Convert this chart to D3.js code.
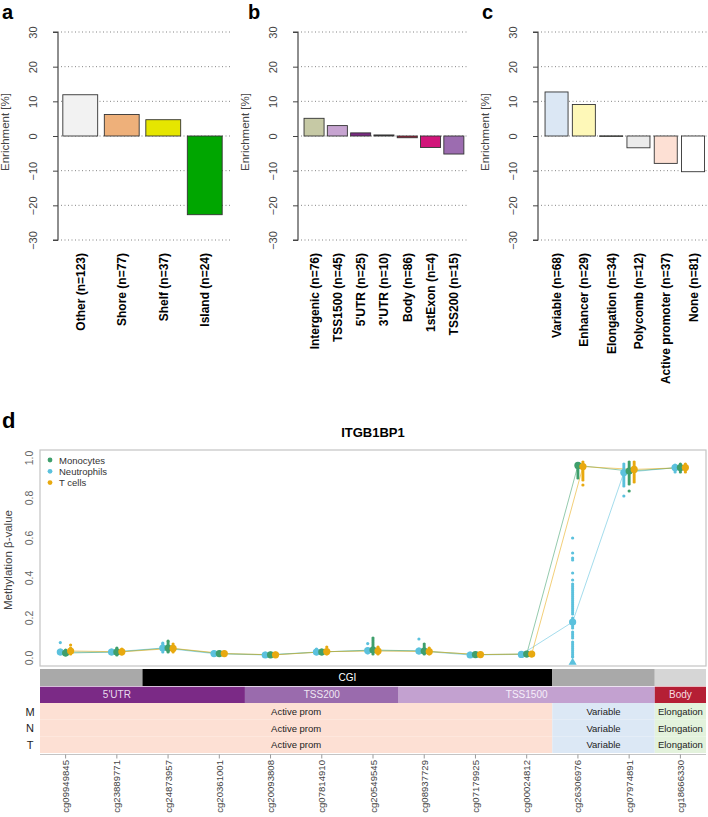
<!DOCTYPE html>
<html><head><meta charset="utf-8">
<script src="https://cdn.jsdelivr.net/npm/d3@7"></script>
<style>body{margin:0;background:#fff}svg{display:block}text{font-family:"Liberation Sans",Arial,sans-serif}</style>
</head><body>
<svg id="chart" width="708" height="817"></svg>
<script>
// ---------- Panel a/b/c data ----------
const aCats = ["Other (n=123)","Shore (n=77)","Shelf (n=37)","Island (n=24)"];
const aVals = [11.9, 6.2, 4.7, -22.7];
const aColors = ["#f2f2f2","#eeb07a","#e6e600","#00a600"];

const bCats = ["Intergenic (n=76)","TSS1500 (n=45)","5'UTR (n=25)","3'UTR (n=10)","Body (n=86)","1stExon (n=4)","TSS200 (n=15)"];
const bVals = [5.1, 3.0, 0.9, 0.3, -0.5, -3.3, -5.2];
const bColors = ["#c6c9a5","#c7a4d1","#7b2a83","#333333","#a51b35","#d1157a","#9c6cb0"];

const cCats = ["Variable (n=68)","Enhancer (n=29)","Elongation (n=34)","Polycomb (n=12)","Active promoter (n=37)","None (n=81)"];
const cVals = [12.7, 9.1, 0.05, -3.4, -7.9, -10.3];
const cColors = ["#dbe7f4","#fef8b8","#e2f1da","#ebebeb","#fde0d4","#ffffff"];

const enrichTicks = [-30,-20,-10,0,10,20,30];

// ---------- Panel d data ----------
const geneName = "ITGB1BP1";
const cpgs = ["cg09949845","cg23889771","cg24873957","cg20361001","cg20093808","cg07814910","cg20549545","cg08937729","cg07179925","cg00024812","cg26306976","cg07974891","cg18666330"];
const groups = ["Neutrophils","Monocytes","T cells"];
const legendOrder = ["Monocytes","Neutrophils","T cells"];
const groupColors = {"Monocytes":"#3f9f6c","Neutrophils":"#5bc1dd","T cells":"#e8a90f"};

const neutMean = [0.030,0.030,0.050,0.022,0.015,0.030,0.037,0.035,0.015,0.018,0.180,0.927,0.952];
const monoMean = [0.025,0.030,0.050,0.022,0.016,0.030,0.040,0.035,0.017,0.020,0.963,0.935,0.952];
const tcelMean = [0.035,0.031,0.048,0.022,0.016,0.032,0.035,0.032,0.017,0.020,0.957,0.943,0.952];

const neutPts = [
  [0.02,0.025,0.03,0.035,0.04,0.077],
  [0.02,0.025,0.03,0.035,0.04],
  [0.03,0.04,0.05,0.06,0.07,0.075],
  [0.015,0.02,0.025,0.03],
  [0.01,0.015,0.02,0.025],
  [0.02,0.025,0.03,0.035,0.045],
  [0.025,0.03,0.035,0.04,0.045,0.072],
  [0.025,0.03,0.035,0.04,0.045,0.095],
  [0.01,0.015,0.02,0.025],
  [0.01,0.015,0.02,0.025],
  [0.6,0.525,0.5,0.49,0.425,0.39,0.37,0.36,0.35,0.34,0.33,0.32,0.31,0.3,0.29,0.28,0.27,0.26,0.25,0.24,0.23,0.22,0.2,0.19,0.18,0.17,0.16,0.15,0.13,0.12,0.11,0.1,0.08,0.07,0.06,0.05,0.04,0.03,0.02,0.01,0.005],
  [0.81,0.86,0.87,0.88,0.89,0.9,0.91,0.92,0.93,0.94,0.95,0.96,0.97],
  [0.93,0.94,0.95,0.96,0.965]
];
const monoPts = [
  [0.015,0.02,0.025,0.03,0.035,0.04],
  [0.015,0.02,0.025,0.03,0.035,0.04,0.045,0.05],
  [0.03,0.035,0.04,0.05,0.055,0.06,0.07,0.08,0.085],
  [0.015,0.02,0.025,0.03],
  [0.01,0.015,0.02,0.025],
  [0.02,0.025,0.03,0.035,0.04],
  [0.02,0.03,0.04,0.05,0.06,0.07,0.08,0.09,0.1],
  [0.02,0.025,0.03,0.04,0.05,0.06,0.07],
  [0.01,0.015,0.02,0.025],
  [0.01,0.015,0.02,0.025],
  [0.9,0.91,0.92,0.93,0.94,0.95,0.96,0.97],
  [0.835,0.87,0.88,0.89,0.9,0.91,0.92,0.93,0.94,0.95,0.96,0.97,0.98],
  [0.93,0.94,0.95,0.96,0.97]
];
const tcelPts = [
  [0.02,0.025,0.03,0.04,0.05,0.065],
  [0.02,0.025,0.03,0.035,0.045],
  [0.03,0.04,0.05,0.06,0.07],
  [0.015,0.02,0.025,0.03],
  [0.01,0.015,0.02,0.025],
  [0.02,0.025,0.03,0.04,0.055],
  [0.02,0.025,0.03,0.04,0.05,0.055],
  [0.02,0.025,0.03,0.04,0.05],
  [0.01,0.015,0.02,0.025],
  [0.01,0.015,0.02,0.025],
  [0.865,0.89,0.9,0.91,0.92,0.93,0.94,0.95,0.96,0.97,0.98],
  [0.88,0.89,0.9,0.91,0.92,0.93,0.94,0.95,0.96,0.97,0.98],
  [0.93,0.94,0.95,0.96,0.97]
];
const belowMarkers = [{site: 11, group: "Neutrophils"}];
const yTicksD = [0.0,0.2,0.4,0.6,0.8,1.0];

// annotation tracks
const cgiTrack = [
  {label:"", from:1, to:2, fill:"#a9a9a9", tc:"#fff"},
  {label:"CGI", from:3, to:10, fill:"#000000", tc:"#fff"},
  {label:"", from:11, to:12, fill:"#a9a9a9", tc:"#fff"},
  {label:"", from:13, to:13, fill:"#d6d6d6", tc:"#fff"}
];
const geneTrack = [
  {label:"5'UTR", from:1, to:4, at:2, fill:"#7b2a86", tc:"#e8dced"},
  {label:"TSS200", from:5, to:7, fill:"#9a6bad", tc:"#efe6f2"},
  {label:"TSS1500", from:8, to:12, fill:"#c3a1d0", tc:"#f6eefa"},
  {label:"Body", from:13, to:13, fill:"#b51f35", tc:"#f5dde0"}
];
const stateRows = ["M","N","T"];
const stateTrack = [
  {label:"Active prom", from:1, to:10, fill:"#fde0d4"},
  {label:"Variable", from:11, to:12, fill:"#dce8f5"},
  {label:"Elongation", from:13, to:13, fill:"#e3f2dc"}
];

// ---------- Drawing ----------
const svg = d3.select("#chart");
const FONT = '"Liberation Sans",Arial,sans-serif';

const yE = d3.scaleLinear().domain([-30,30]).range([240,32]);

function barPanel(letter, letterX, labelX, axisX, bandRange, gridEnd, cats, vals, colors, pin, pout) {
  const g = svg.append("g");
  const x = d3.scaleBand().domain(cats).range(bandRange).paddingInner(pin).paddingOuter(pout);
  g.append("text").attr("x", letterX).attr("y", 19).attr("font-size", 20).attr("font-weight", "bold").text(letter);
  g.selectAll("line.grid").data(enrichTicks).join("line")
    .attr("x1", axisX + 3).attr("x2", gridEnd)
    .attr("y1", d => yE(d)).attr("y2", d => yE(d))
    .attr("stroke", "#777").attr("stroke-width", 0.9).attr("stroke-dasharray", "1,2.5");
  const ax = g.append("g").attr("transform", `translate(${axisX},0)`)
    .call(d3.axisLeft(yE).tickValues(enrichTicks).tickSize(5).tickFormat(d => d < 0 ? "\u2212" + Math.abs(d) : d));
  ax.select(".domain").attr("stroke", "#444").attr("stroke-width", 1.2).attr("d", `M-5,${yE(30)}H0V${yE(-30)}H-5`);
  ax.selectAll(".tick line").attr("stroke", "#444");
  ax.selectAll(".tick text").attr("font-size", 11).attr("fill", "#444").attr("font-family", FONT)
    .attr("x", 0).attr("dy", 0).attr("text-anchor", "middle")
    .attr("transform", "translate(-21,0) rotate(-90)");
  g.append("text").attr("transform", `translate(${labelX},${yE(0) - 4}) rotate(-90)`)
    .attr("text-anchor", "middle").attr("font-size", 11.5).attr("fill", "#444").text("Enrichment [%]");
  g.selectAll("rect.bar").data(cats).join("rect")
    .attr("x", d => x(d)).attr("width", x.bandwidth())
    .attr("y", (d, i) => yE(Math.max(0, vals[i])))
    .attr("height", (d, i) => Math.max(0.6, Math.abs(yE(vals[i]) - yE(0))))
    .attr("fill", (d, i) => colors[i]).attr("stroke", "#333").attr("stroke-width", 0.9);
  g.selectAll("text.cat").data(cats).join("text")
    .attr("transform", d => `translate(${x(d) + x.bandwidth() / 2 + 4.5},253) rotate(-90)`)
    .attr("text-anchor", "end").attr("font-size", 12).attr("font-weight", "bold").text(d => d);
}

barPanel("a", 2, 9, 58, [59.5, 225.5], 232, aCats, aVals, aColors, 0.16, 0.08);
barPanel("b", 248, 249, 298, [302.4, 465.5], 468, bCats, bVals, bColors, 0.14, 0.07);
barPanel("c", 482, 489, 538, [542.9, 706.7], 708, cCats, cVals, cColors, 0.157, 0.0785);

// ---------- Panel d ----------
const dL = 40, dR = 706, dT = 450, dB = 666;
const xD = d3.scaleLinear().domain([0.5, 13.5]).range([dL, dR]);
const yD = d3.scaleLinear().domain([-0.04, 1.04]).range([dB, dT]);
const offset = {"Neutrophils": -5.3, "Monocytes": 0, "T cells": 5};
const means = {"Neutrophils": neutMean, "Monocytes": monoMean, "T cells": tcelMean};
const pts = {"Neutrophils": neutPts, "Monocytes": monoPts, "T cells": tcelPts};

svg.append("text").attr("x", 2).attr("y", 428).attr("font-size", 22).attr("font-weight", "bold").text("d");
svg.append("text").attr("x", xD(7)).attr("y", 437).attr("text-anchor", "middle")
  .attr("font-size", 13).attr("font-weight", "bold").text(geneName);

svg.append("rect").attr("x", dL).attr("y", dT).attr("width", dR - dL).attr("height", dB - dT)
  .attr("fill", "none").attr("stroke", "#c4c4c4").attr("stroke-width", 1.2);

svg.selectAll("text.yd").data(yTicksD).join("text")
  .attr("transform", d => `translate(33,${yD(d)}) rotate(-90)`)
  .attr("text-anchor", "middle").attr("font-size", 10.5).attr("fill", "#666").text(d => d.toFixed(1));
svg.append("text").attr("transform", `translate(12,${(dT + dB) / 2 + 2}) rotate(-90)`)
  .attr("text-anchor", "middle").attr("font-size", 11.5).attr("fill", "#444").text("Methylation \u03b2-value");

const line = d3.line().x(d => d[0]).y(d => d[1]);
groups.forEach(gname => {
  const data = means[gname].map((v, i) => [xD(i + 1) + offset[gname], yD(v)]);
  svg.append("path").attr("d", line(data)).attr("fill", "none")
    .attr("stroke", groupColors[gname]).attr("stroke-width", 0.8).attr("stroke-opacity", 0.7);
});
groups.forEach(gname => {
  const flat = [];
  pts[gname].forEach((arr, i) => arr.forEach(v => flat.push([i + 1, v])));
  svg.append("g").selectAll("circle").data(flat).join("circle")
    .attr("cx", d => xD(d[0]) + offset[gname]).attr("cy", d => yD(d[1]))
    .attr("r", 1.6).attr("fill", groupColors[gname]);
});
groups.forEach(gname => {
  svg.append("g").selectAll("circle").data(means[gname]).join("circle")
    .attr("cx", (d, i) => xD(i + 1) + offset[gname]).attr("cy", d => yD(d))
    .attr("r", 3.6).attr("fill", groupColors[gname]);
});
svg.selectAll("path.below").data(belowMarkers).join("path")
  .attr("d", d3.symbol().type(d3.symbolTriangle).size(28))
  .attr("transform", d => `translate(${xD(d.site) + offset[d.group]},${yD(-0.022)})`)
  .attr("fill", d => groupColors[d.group]);

const lg = svg.append("g");
legendOrder.forEach((name, i) => {
  lg.append("circle").attr("cx", 50).attr("cy", 460 + i * 11.3).attr("r", 2.4).attr("fill", groupColors[name]);
  lg.append("text").attr("x", 59).attr("y", 463.5 + i * 11.3).attr("font-size", 9.5).attr("fill", "#333").text(name);
});

function track(data, y0, h, withText, fontSize) {
  const g = svg.append("g");
  data.forEach(d => {
    const x0 = Math.max(dL, xD(d.from - 0.5)), x1 = Math.min(dR, xD(d.to + 0.5));
    g.append("rect").attr("x", x0).attr("y", y0).attr("width", x1 - x0).attr("height", h).attr("fill", d.fill);
    if (withText && d.label) {
      const cx = d.at ? xD(d.at) : (x0 + x1) / 2;
      g.append("text").attr("x", cx).attr("y", y0 + h / 2 + 3.5).attr("text-anchor", "middle")
        .attr("font-size", fontSize).attr("fill", d.tc || "#222").text(d.label);
    }
  });
}
track(cgiTrack, 669, 17, true, 10);
track(geneTrack, 686.7, 16.3, true, 10);
stateRows.forEach((r, i) => {
  const y0 = 703 + i * 16.67;
  track(stateTrack.map(s => Object.assign({}, s, {tc: "#222"})), y0, 16.67, true, 9.5);
  svg.append("text").attr("x", 30).attr("y", y0 + 12.5).attr("text-anchor", "middle")
    .attr("font-size", 11).attr("fill", "#222").text(r);
});

svg.append("line").attr("x1", dL).attr("x2", dR).attr("y1", 754.5).attr("y2", 754.5)
  .attr("stroke", "#c4c4c4").attr("stroke-width", 1.2);
svg.selectAll("line.xt").data(cpgs).join("line")
  .attr("x1", (d, i) => xD(i + 1)).attr("x2", (d, i) => xD(i + 1))
  .attr("y1", 754.5).attr("y2", 758.5).attr("stroke", "#999");
svg.selectAll("text.xl").data(cpgs).join("text")
  .attr("transform", (d, i) => `translate(${xD(i + 1) + 3.5},760) rotate(-90)`)
  .attr("text-anchor", "end").attr("font-size", 9.6).attr("fill", "#444").text(d => d);
</script>
</body></html>
